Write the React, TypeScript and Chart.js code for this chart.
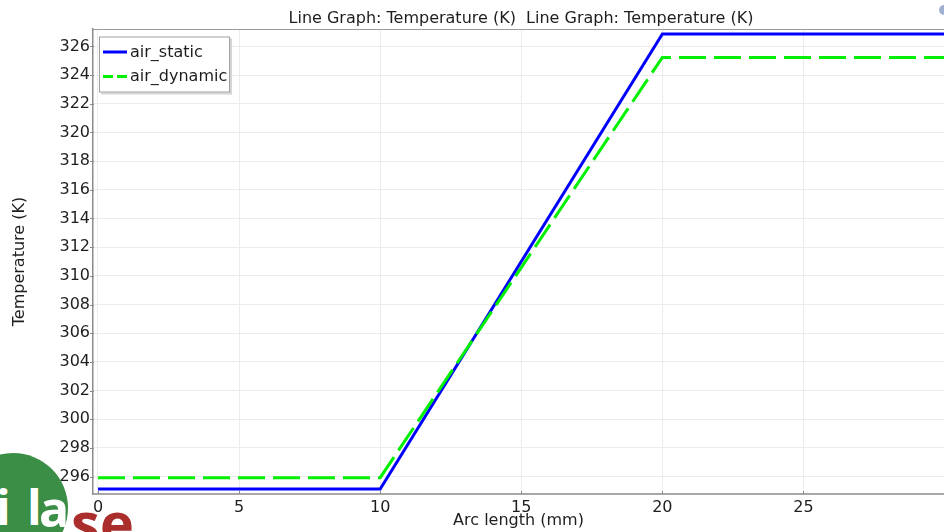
import React, { useEffect, useRef } from "react";
import { Chart, registerables } from "chart.js";

Chart.register(...registerables);

// Arc length (mm) at the profile's break points
const arcLength = [0, 10, 20, 30];
// Temperature (K) along the arc for each series
const airStatic = [295.14, 295.14, 326.87, 326.87];
const airDynamic = [295.93, 295.93, 325.23, 325.23];

const seriesNames = ["air_static", "air_dynamic"];
const xTickValues = [0, 5, 10, 15, 20, 25];
const yTickValues = [296, 298, 300, 302, 304, 306, 308, 310, 312, 314, 316, 318, 320, 322, 324, 326];

const plotTitle = "Line Graph: Temperature (K)  Line Graph: Temperature (K)";
const xTitle = "Arc length (mm)";
const yTitle = "Temperature (K)";

const FONT = "'DejaVu Sans', Verdana, sans-serif";
const TEXT = "#1e1e1e";
const STATIC_COLOR = "#0000ff";
const DYNAMIC_COLOR = "#00f000";
const DYNAMIC_DASH = [27, 8];

// Frame line on top of the plot area plus short inward tick marks
const framePlugin = {
  id: "frame",
  afterDraw(chart: any) {
    const { ctx, chartArea, scales } = chart;
    ctx.save();
    ctx.strokeStyle = "#9a9a9a";
    ctx.lineWidth = 1;
    ctx.beginPath();
    ctx.moveTo(chartArea.left, chartArea.top + 0.5);
    ctx.lineTo(chartArea.right, chartArea.top + 0.5);
    ctx.stroke();

    ctx.strokeStyle = "#8a8a8a";
    ctx.beginPath();
    for (const v of xTickValues) {
      const x = Math.round(scales.x.getPixelForValue(v)) + 0.5;
      ctx.moveTo(x, chartArea.bottom);
      ctx.lineTo(x, chartArea.bottom - 3);
    }
    for (const v of yTickValues) {
      const y = Math.round(scales.y.getPixelForValue(v)) + 0.5;
      ctx.moveTo(chartArea.left - 3, y);
      ctx.lineTo(chartArea.left + 1, y);
    }
    ctx.stroke();
    ctx.restore();
  },
};

// Plot title and the boxed legend in the top-left corner of the plot
const annotationPlugin = {
  id: "annotations",
  afterDraw(chart: any) {
    const { ctx, chartArea } = chart;
    ctx.save();

    ctx.font = `16px ${FONT}`;
    ctx.fillStyle = TEXT;
    ctx.textAlign = "center";
    ctx.textBaseline = "alphabetic";
    ctx.fillText(plotTitle, (chartArea.left + chartArea.right) / 2 + 2.5, 22.5);

    const bx = chartArea.left + 6;
    const by = chartArea.top + 7.5;
    const bw = 131;
    const bh = 56;
    ctx.fillStyle = "#d4d4d4";
    ctx.fillRect(bx + 2, by + 2, bw, bh);
    ctx.fillStyle = "#ffffff";
    ctx.fillRect(bx, by, bw, bh);
    ctx.strokeStyle = "#a0a0a0";
    ctx.lineWidth = 1;
    ctx.strokeRect(bx + 0.5, by + 0.5, bw - 1, bh - 1);

    const rows = [
      { name: seriesNames[0], color: STATIC_COLOR, dash: [] as number[], y: by + 15.5 },
      { name: seriesNames[1], color: DYNAMIC_COLOR, dash: [10, 4], y: by + 40 },
    ];
    ctx.font = `16px ${FONT}`;
    ctx.textAlign = "left";
    ctx.textBaseline = "middle";
    for (const r of rows) {
      ctx.strokeStyle = r.color;
      ctx.lineWidth = 3;
      ctx.setLineDash(r.dash);
      ctx.beginPath();
      ctx.moveTo(bx + 4, r.y);
      ctx.lineTo(bx + 28, r.y);
      ctx.stroke();
      ctx.setLineDash([]);
      ctx.fillStyle = TEXT;
      ctx.fillText(r.name, bx + 31, r.y + 0.5);
    }
    ctx.restore();
  },
};

const logoLetter = (
  text: string,
  left: number,
  top: number,
  size: number,
  color: string
) => (
  <div
    style={{
      position: "absolute",
      left,
      top,
      fontFamily: "'Open Sans', sans-serif",
      fontWeight: 700,
      fontSize: size,
      lineHeight: 1,
      color,
      whiteSpace: "nowrap",
    }}
  >
    {text}
  </div>
);

export default function App() {
  const canvasRef = useRef<HTMLCanvasElement | null>(null);

  useEffect(() => {
    if (!canvasRef.current) return;
    const chart = new Chart(canvasRef.current, {
      type: "line",
      data: {
        datasets: [
          {
            label: seriesNames[0],
            data: arcLength.map((x, i) => ({ x, y: airStatic[i] })),
            borderColor: STATIC_COLOR,
            borderWidth: 3,
            pointRadius: 0,
            tension: 0,
            order: 1,
          },
          {
            label: seriesNames[1],
            data: arcLength.map((x, i) => ({ x, y: airDynamic[i] })),
            borderColor: DYNAMIC_COLOR,
            borderWidth: 3,
            borderDash: DYNAMIC_DASH,
            pointRadius: 0,
            tension: 0,
            order: 0,
          },
        ],
      },
      options: {
        responsive: false,
        animation: false,
        events: [],
        layout: { padding: { top: 29, right: 0, left: 0, bottom: 0 } },
        plugins: {
          legend: { display: false },
          title: { display: false },
          tooltip: { enabled: false },
        },
        scales: {
          x: {
            type: "linear",
            min: -0.177,
            max: 29.98,
            afterBuildTicks: (s: any) => {
              s.ticks = xTickValues.map((value) => ({ value }));
            },
            afterFit: (s: any) => {
              s.height = 38;
            },
            grid: { color: "#ececec", lineWidth: 1, drawTicks: false },
            border: { color: "#a8a8a8", width: 2 },
            ticks: {
              padding: 4,
              color: TEXT,
              font: { family: FONT, size: 16 },
              maxRotation: 0,
              autoSkip: false,
            },
            title: {
              display: true,
              text: xTitle,
              color: TEXT,
              font: { family: FONT, size: 16 },
              padding: { top: 0, bottom: 1.5 },
            },
          },
          y: {
            type: "linear",
            min: 294.79,
            max: 327.21,
            afterBuildTicks: (s: any) => {
              s.ticks = yTickValues.map((value) => ({ value }));
            },
            afterFit: (s: any) => {
              s.width = 93;
            },
            grid: { color: "#ececec", lineWidth: 1, drawTicks: false },
            border: { color: "#8c8c8c", width: 1.5 },
            ticks: {
              padding: 3,
              color: TEXT,
              font: { family: FONT, size: 16 },
              autoSkip: false,
            },
            title: {
              display: true,
              text: yTitle,
              color: TEXT,
              font: { family: FONT, size: 16 },
              padding: { top: 10.5, bottom: 0 },
            },
          },
        },
      },
      plugins: [framePlugin, annotationPlugin],
    });
    return () => chart.destroy();
  }, []);

  return (
    <div
      style={{
        position: "fixed",
        left: 0,
        top: 0,
        width: 944,
        height: 532,
        overflow: "hidden",
        background: "#ffffff",
      }}
    >
      {/* corner logo, sitting beneath the chart canvas */}
      <div
        style={{
          position: "absolute",
          left: 13 - 55,
          top: 508 - 55,
          width: 110,
          height: 110,
          borderRadius: "50%",
          background: "#3b8e46",
        }}
      />
      {logoLetter("i", -4, 483, 48, "#ffffff")}
      {logoLetter("l", 27, 483, 48, "#ffffff")}
      {logoLetter("a", 39, 483, 50, "#ffffff")}
      {logoLetter("se", 71, 493, 58, "#a92e2c")}
      <div
        style={{
          position: "absolute",
          left: 939,
          top: 5,
          width: 10,
          height: 10,
          borderRadius: "50%",
          background: "#9fb0d0",
        }}
      />
      <canvas
        ref={canvasRef}
        width={944}
        height={532}
        style={{ position: "absolute", left: 0, top: 0, display: "block" }}
      />
    </div>
  );
}
